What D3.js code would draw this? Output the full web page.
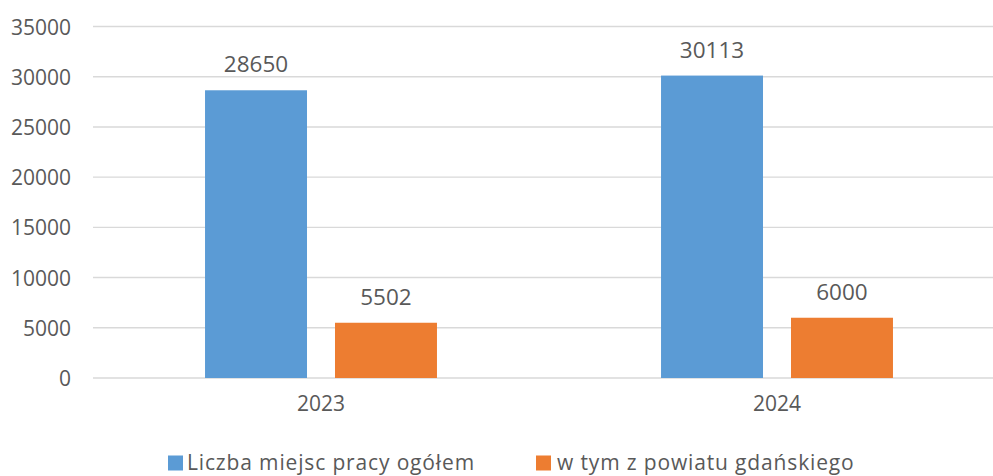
<!DOCTYPE html>
<html>
<head>
<meta charset="utf-8">
<script src="https://cdn.jsdelivr.net/npm/d3@7"></script>
<style>
  html, body { margin: 0; padding: 0; background: #fff; }
  svg { display: block; }
  text { font-family: "Open Sans", sans-serif; fill: #595959; }
</style>
</head>
<body>
<svg id="chart" width="993" height="476"></svg>
<script>
const categories = ["2023", "2024"];
const seriesNames = ["Liczba miejsc pracy ogółem", "w tym z powiatu gdańskiego"];
const seriesTotal = [28650, 30113];
const seriesGdanski = [5502, 6000];
const yTicks = [0, 5000, 10000, 15000, 20000, 25000, 30000, 35000];
const colors = ["#5b9bd5", "#ed7d31"];

const seriesValues = [seriesTotal, seriesGdanski];

const svg = d3.select("#chart");
const W = 993;

const x0 = d3.scaleBand().domain(categories).range([93, 1005]).paddingInner(0).paddingOuter(0);
const x1 = d3.scaleBand().domain(d3.range(seriesNames.length)).range([0, x0.bandwidth()])
  .paddingInner(28 / 130).paddingOuter(0.862);
const y = d3.scaleLinear().domain([0, 35000]).range([378, 26.5]);

// gridlines
const grid = svg.append("g");
grid.selectAll("line").data(yTicks).join("line")
  .attr("x1", 93).attr("x2", W)
  .attr("y1", d => y(d)).attr("y2", d => y(d))
  .attr("stroke", "#d9d9d9").attr("stroke-width", 1.4);

// y axis labels
const yAxis = d3.axisLeft(y).tickValues(yTicks).tickSize(0).tickPadding(0).tickFormat(d3.format("d"));
const yg = svg.append("g").attr("transform", "translate(71,0)").call(yAxis);
yg.select(".domain").remove();
yg.selectAll("text").style("font-family", '"Open Sans", sans-serif').style("font-size", "21px")
  .attr("fill", "#595959").attr("dy", "0.36em");

// x axis labels
const xAxis = d3.axisBottom(x0).tickSize(0).tickPadding(0);
const xg = svg.append("g").attr("transform", "translate(0,395)").call(xAxis);
xg.select(".domain").remove();
xg.selectAll("text").style("font-family", '"Open Sans", sans-serif').style("font-size", "21px")
  .attr("fill", "#595959").attr("dy", "0.74em");

// bars
const groups = svg.append("g").selectAll("g").data(categories).join("g")
  .attr("transform", d => `translate(${x0(d)},0)`);

groups.selectAll("rect").data((c, ci) => seriesValues.map((s, si) => ({ si, v: s[ci] }))).join("rect")
  .attr("x", d => x1(d.si)).attr("width", x1.bandwidth())
  .attr("y", d => y(d.v)).attr("height", d => y(0) - y(d.v))
  .attr("fill", d => colors[d.si]);

groups.selectAll("text.lbl").data((c, ci) => seriesValues.map((s, si) => ({ si, v: s[ci] }))).join("text")
  .attr("class", "lbl")
  .attr("x", d => x1(d.si) + x1.bandwidth() / 2)
  .attr("y", d => y(d.v) - 18)
  .attr("text-anchor", "middle")
  .style("font-size", "22.5px")
  .text(d => d.v);

// legend
const legendPos = [{ sx: 168, tx: 187 }, { sx: 536, tx: 557 }];
const lg = svg.append("g");
seriesNames.forEach((name, i) => {
  lg.append("rect").attr("x", legendPos[i].sx).attr("y", 455.5).attr("width", 15).attr("height", 15)
    .attr("fill", colors[i]);
  lg.append("text").attr("x", legendPos[i].tx).attr("y", 470).style("font-size", "21px")
    .style("letter-spacing", "0.85px").text(name);
});
</script>
</body>
</html>
